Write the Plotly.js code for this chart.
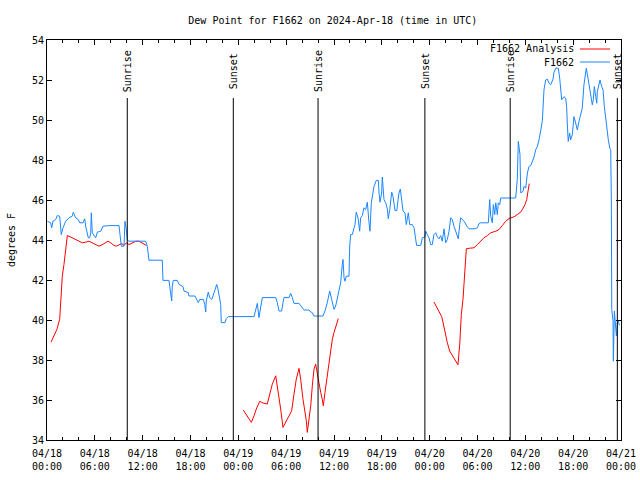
<!DOCTYPE html>
<html>
<head>
<meta charset="utf-8">
<script src="https://cdn.plot.ly/plotly-3.0.1.min.js"></script>
<style>html,body{margin:0;padding:0;background:#fff;}#chart{width:640px;height:480px;}</style>
</head>
<body>
<div id="chart"></div>
<script>
// Hours since 2024-04-18 00:00 UTC
const obsHours = [0.04,0.46,0.59,0.75,1.09,1.29,1.59,1.79,2.01,2.35,2.76,3.17,3.30,3.60,3.93,4.10,4.52,4.73,4.85,5.06,5.18,5.36,5.48,5.56,5.68,6.11,6.31,6.74,7.02,7.78,9.03,9.16,9.32,9.66,9.78,9.95,10.07,10.29,12.38,12.58,12.79,14.46,14.55,15.30,15.52,15.64,15.72,15.84,16.34,16.56,17.06,17.18,17.72,17.81,18.56,18.73,18.98,19.16,19.61,19.78,19.91,19.98,20.23,20.41,20.66,20.82,21.04,21.29,21.45,21.58,21.79,21.86,22.33,22.49,22.74,25.97,26.25,26.38,26.59,26.81,27.01,28.69,28.89,29.10,29.44,29.60,29.73,30.36,30.57,30.77,30.98,31.61,31.82,32.02,32.24,32.86,33.08,33.28,33.49,34.62,34.87,35.16,35.46,35.71,36.00,36.21,36.54,36.84,37.04,37.13,37.26,37.38,37.54,37.88,37.97,38.09,38.29,38.42,38.63,38.79,39.01,39.22,39.34,39.55,39.76,39.97,40.18,40.39,40.52,40.68,40.89,41.02,41.31,41.56,41.65,41.77,41.98,42.06,42.27,42.49,42.69,42.81,42.99,43.24,43.40,43.65,43.87,44.03,44.15,44.32,44.50,44.66,44.91,45.07,45.32,45.50,45.82,46.04,46.25,46.37,46.88,47.08,47.42,47.50,47.71,47.92,48.13,48.33,48.54,48.76,48.96,49.17,49.38,49.58,49.80,50.01,50.21,50.43,50.64,50.84,51.05,51.34,51.59,51.77,51.89,52.31,52.52,52.72,52.93,53.68,53.98,54.19,54.40,55.36,55.53,55.66,55.86,55.99,56.16,56.29,56.49,56.61,56.79,56.91,58.79,58.99,59.12,59.33,59.42,59.71,59.83,60.05,60.26,60.46,60.68,60.88,61.09,61.30,61.51,61.72,61.93,62.13,62.34,62.55,62.76,62.97,63.18,63.47,63.59,63.81,64.14,64.31,64.56,64.85,65.06,65.18,65.26,65.38,65.56,65.68,65.89,66.10,66.31,66.52,66.73,66.94,67.14,67.35,67.57,67.65,67.86,67.98,68.20,68.40,68.53,68.65,68.83,68.96,69.03,69.24,69.37,69.58,69.75,69.91,70.09,70.25,70.41,70.59,70.71,70.79,70.84,71.00,71.04,71.17,71.25,71.34,71.42,71.54,71.67,71.79];
const obsDewF = [44.94,44.86,44.61,44.94,45.02,45.22,45.19,44.27,44.61,44.94,45.11,45.19,45.39,45.11,45.02,44.86,44.86,45.06,44.69,44.36,44.11,44.11,44.36,45.36,44.36,44.11,44.39,44.44,44.69,44.72,44.72,44.27,43.69,43.69,44.94,44.52,43.99,43.94,43.94,43.69,42.99,42.99,41.98,41.98,41.28,40.95,41.70,41.98,41.98,41.78,41.67,41.45,41.37,41.20,41.20,41.03,40.87,41.03,41.03,40.78,40.40,40.95,41.40,41.12,41.03,41.20,41.53,41.78,41.53,41.28,40.78,39.87,39.87,40.07,40.17,40.17,40.62,40.83,40.12,40.73,41.12,41.12,40.87,40.45,40.45,40.87,41.12,41.12,41.33,41.12,40.83,40.83,40.73,40.62,40.50,40.50,40.40,40.37,40.20,40.20,40.45,40.87,41.45,41.03,40.53,40.70,41.37,41.87,42.78,43.03,42.11,41.94,42.19,42.19,43.69,44.27,44.27,44.52,44.77,45.39,45.11,44.44,45.11,45.22,45.61,45.52,45.89,44.86,44.44,45.86,46.43,46.68,46.98,46.98,46.35,45.89,46.35,47.15,46.02,45.86,45.56,45.06,45.52,46.39,46.18,45.47,45.47,45.94,46.35,46.55,45.86,45.44,45.36,44.77,45.36,44.77,44.77,44.61,44.02,43.73,43.73,44.11,44.16,44.44,44.27,44.11,43.77,43.77,44.27,44.36,44.16,44.06,44.22,43.94,44.56,43.86,44.02,44.44,45.11,45.02,44.69,44.36,44.06,44.77,45.11,44.94,44.77,44.66,44.56,44.56,44.61,44.82,44.86,44.86,46.02,45.19,44.86,45.77,45.27,45.86,45.27,45.86,45.77,46.10,46.10,47.02,48.93,48.27,46.36,46.43,46.68,46.60,47.35,47.68,47.72,47.93,48.15,48.51,48.68,49.01,49.60,49.93,51.51,52.00,52.04,51.84,51.76,52.04,52.37,52.59,52.59,52.09,51.01,51.17,51.09,50.67,49.85,48.93,49.35,49.01,49.26,50.17,49.85,49.51,49.93,50.26,50.59,51.76,52.42,52.59,52.09,51.84,51.34,50.76,51.01,51.67,51.17,50.84,51.42,51.84,52.00,51.67,51.51,50.67,50.01,49.26,49.01,48.60,48.51,45.85,40.53,39.94,37.94,40.45,40.13,39.54,39.20,39.87,39.95,39.74];

// Analysis (null = gap)
const anaHours = [0.50,0.88,1.25,1.59,1.72,1.92,2.13,2.35,2.55,2.76,3.17,3.60,4.01,4.43,4.85,5.27,5.68,6.11,6.52,6.94,7.36,7.65,7.99,8.40,8.69,9.03,9.37,9.66,9.95,10.29,10.70,11.13,11.54,11.95,12.46,
  null,
  24.62,25.13,25.63,25.97,26.25,26.68,27.09,27.63,27.93,28.26,28.69,28.89,29.10,29.31,29.60,29.94,30.27,30.69,30.98,31.27,31.61,31.82,32.11,32.36,32.53,32.65,32.86,33.08,33.28,33.49,33.70,33.90,34.12,34.33,34.53,34.66,34.87,35.08,35.37,35.59,35.79,36.00,36.21,36.54,
  null,
  48.54,48.83,49.17,49.51,49.67,49.92,50.21,50.51,50.84,51.18,51.55,51.77,51.97,52.18,52.31,52.43,52.60,53.02,53.56,53.98,54.40,54.81,55.23,55.66,56.29,56.70,57.11,57.54,57.95,58.58,58.99,59.42,59.62,59.96,60.17,60.33,60.49];
const anaDewF = [38.89,39.24,39.54,40.04,40.95,42.19,42.78,43.53,44.22,44.19,44.11,44.02,43.94,43.86,43.89,43.94,43.86,43.77,43.69,43.77,43.86,43.94,43.86,43.73,43.69,43.77,43.82,43.73,43.86,43.77,43.86,43.94,43.94,43.86,43.73,
  null,
  35.50,35.21,34.88,35.21,35.55,35.93,35.85,35.80,36.29,36.79,37.21,36.71,36.21,35.55,34.63,34.88,35.13,35.46,36.29,37.04,37.58,37.04,36.04,35.38,34.96,34.38,35.05,35.71,36.71,37.54,37.79,37.29,36.88,36.38,36.04,35.71,36.38,37.04,37.87,38.62,39.04,39.37,39.62,40.07,
  null,
  40.90,40.70,40.45,40.17,39.90,39.37,38.87,38.45,38.24,38.04,37.76,38.79,40.28,41.03,41.87,42.53,43.56,43.59,43.61,43.77,43.94,44.11,44.22,44.36,44.44,44.52,44.72,44.94,45.07,45.16,45.27,45.39,45.52,45.77,46.02,46.42,46.82];

const sunHours = [10.07, 23.37, 34.00, 47.40, 58.10, 71.54];
const sunLabels = ["Sunrise","Sunset","Sunrise","Sunset","Sunrise","Sunset"];

const tickHours = [0,6,12,18,24,30,36,42,48,54,60,66,72];
const tickLabels = ["04/18<br>00:00","04/18<br>06:00","04/18<br>12:00","04/18<br>18:00","04/19<br>00:00","04/19<br>06:00","04/19<br>12:00","04/19<br>18:00","04/20<br>00:00","04/20<br>06:00","04/20<br>12:00","04/20<br>18:00","04/21<br>00:00"];
const yTicks = [34,36,38,40,42,44,46,48,50,52,54];

const seriesNames = ["F1662 Analysis", "F1662"];
const seriesColors = ["#ff0000", "#1a86ff"];

const T0 = Date.UTC(2024, 3, 18);
function hToDate(h) {
  if (h === null) return null;
  const d = new Date(T0 + Math.round(h * 3600) * 1000);
  const p = n => String(n).padStart(2, '0');
  return d.getUTCFullYear() + '-' + p(d.getUTCMonth() + 1) + '-' + p(d.getUTCDate()) + ' ' +
    p(d.getUTCHours()) + ':' + p(d.getUTCMinutes()) + ':' + p(d.getUTCSeconds());
}

const FONT = "DejaVu Sans Mono, Liberation Mono, monospace";

const traces = [
  {
    x: anaHours.map(hToDate), y: anaDewF, name: seriesNames[0],
    type: "scatter", mode: "lines", connectgaps: false, showlegend: false,
    line: {color: seriesColors[0], width: 1}
  },
  {
    x: obsHours.map(hToDate), y: obsDewF, name: seriesNames[1],
    type: "scatter", mode: "lines", showlegend: false,
    line: {color: seriesColors[1], width: 1}
  }
];

const shapes = sunHours.map(h => ({
  type: "line", xref: "x", yref: "paper",
  x0: hToDate(h), x1: hToDate(h), y0: 0, y1: 0.855,
  line: {color: "#000", width: 1}
}));

const annotations = sunHours.map((h, i) => ({
  x: hToDate(h), xref: "x", y: 0.9225, yref: "paper",
  text: sunLabels[i], textangle: -90, showarrow: false,
  xanchor: "center", yanchor: "middle",
  font: {family: FONT, size: 10, color: "#000"}
}));

// gnuplot-style key: text right-aligned, sample line to its right
const keyRows = [0.9775, 0.945];
seriesNames.forEach((nm, i) => {
  annotations.push({
    x: 0.921, xref: "paper", y: keyRows[i], yref: "paper",
    text: nm, showarrow: false, xanchor: "right", yanchor: "middle",
    font: {family: FONT, size: 10, color: "#000"}
  });
  shapes.push({
    type: "line", xref: "paper", yref: "paper",
    x0: 0.9286, x1: 0.9808, y0: keyRows[i], y1: keyRows[i],
    line: {color: seriesColors[i], width: 1}
  });
});

const layout = {
  width: 640, height: 480,
  margin: {l: 47, r: 19, t: 40, b: 40},
  paper_bgcolor: "#fff", plot_bgcolor: "#fff",
  font: {family: FONT, size: 10, color: "#000"},
  title: {text: "Dew Point for F1662 on 2024-Apr-18 (time in UTC)", x: 0.52, xanchor: "center", y: 0.958, yanchor: "middle", font: {family: FONT, size: 10, color: "#000"}},
  showlegend: false,
  xaxis: {
    type: "date",
    range: [hToDate(0), hToDate(72)],
    tickvals: tickHours.map(hToDate), ticktext: tickLabels,
    ticks: "inside", ticklen: 5, tickcolor: "#000", tickwidth: 1,
    ticklabelstandoff: 4,
    minor: {dtick: 7200000, ticks: "inside", ticklen: 3, tickcolor: "#000", tickwidth: 1, showgrid: false},
    showline: true, linecolor: "#000", linewidth: 1, mirror: "ticks",
    showgrid: false, zeroline: false,
    tickfont: {family: FONT, size: 10, color: "#000"}
  },
  yaxis: {
    range: [34, 54], tickvals: yTicks,
    ticks: "inside", ticklen: 5, tickcolor: "#000", tickwidth: 1,
    showline: true, linecolor: "#000", linewidth: 1, mirror: "ticks",
    showgrid: false, zeroline: false,
    tickfont: {family: FONT, size: 10, color: "#000"},
    title: {text: "degrees F", standoff: 14, font: {family: FONT, size: 10, color: "#000"}}
  },
  shapes: shapes,
  annotations: annotations
};

Plotly.newPlot("chart", traces, layout, {staticPlot: true, displayModeBar: false});
</script>
</body>
</html>
